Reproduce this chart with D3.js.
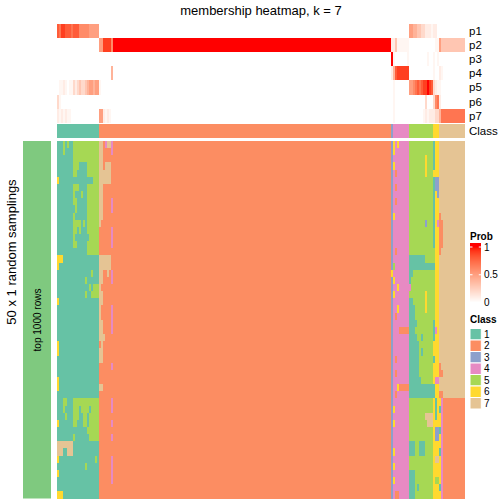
<!DOCTYPE html>
<html><head><meta charset="utf-8">
<script src="https://cdn.jsdelivr.net/npm/d3@7"></script>
<style>body{margin:0;background:#fff}svg{display:block}text{font-family:"Liberation Sans",Arial,Helvetica,sans-serif;fill:#000}</style>
</head><body><svg id="c" width="504" height="504"></svg>
<script>
// ---------- data ----------
const classLabels = ["1","2","3","4","5","6","7"];
const classColors = ["#66C2A5","#FC8D62","#8DA0CB","#E78AC3","#A6D854","#FFD92F","#E5C494"];
// number of samples in each consensus class (columns ordered by class)
const groupSizes = [21,146,1,8,12,3,13];
const probNames = ["p1","p2","p3","p4","p5","p6","p7"];
// membership probabilities per sample (digit = tenths, X = 1, h = 0.05), run-length coded per class group
const probRows = [
 "8 7 9*2 8*3 7 8*3 6*5 5*5 | 0*146 | 0 | 0*8 | 5*2 4*2 3*2 2*2 1*2 1 h | 1 1 0 | 0*13",
 "0*21 | 5*2 9*4 6 X*139 | 1 | 1 3 h*6 | 0*12 | 0 h h | 5 3*12",
 "0*21 | 0*146 | X | h 0*6 h | 0*9 h 0*2 | h 0 h | 0*13",
 "0*21 | 0*6 4 0*139 | 1 | 4 8 9*6 | 0*12 | h 0 0 | 1 h 0*11",
 "0 h h 1 h 0 h h 2 1 2 3 2 2 3 4 5 5 4 5 5 | h 0*145 | 0 | h 0*7 | 5 5 6 7 8 7 8 9 9 X 9 8 | 2 1 h | h 0*12",
 "2 h 0*19 | 0*146 | 0 | h 0*7 | 0*8 2 0*3 | 2 6 7 | 1 0*12",
 "1 h 1 h 1 h h 0*14 | 5*2 1 h 1 h 0*140 | 0 | h 0*7 | 0*7 h 1 h 1 1 | 1 2 2 | 4 7*12"
];
// class assigned in each of the 50 random samplings (rows), run-length coded per class group
const samplingRows = [
 "1*3 5 1 5 1*2 5*13 | 7*2 2 4 7*2 4 2*139 | 3 | 6 4 6 4*5 | 5*12 | 1 6*2 | 7*13",
 "1*3 5 1*4 5*13 | 7*2 2*4 4 2*139 | 3 | 6 4*7 | 5*12 | 1 6*2 | 7*13",
 "1*8 5*13 | 7*2 2*144 | 3 | 4*8 | 5*8 6 5*3 | 1 6*2 | 7*13",
 "1*8 5*3 1*4 5*6 | 7*2 2 7*3 2*140 | 3 | 6 4*7 | 5*8 6 5*3 | 1 6*2 | 7*13",
 "1*8 5*2 1*5 5*6 | 7*6 2*140 | 3 | 4 2 4*6 | 5*8 6 5*3 | 6*3 | 7*13",
 "6 1*17 5*3 | 7*6 2*140 | 3 | 4*8 | 5*12 | 1 3*2 | 7*13",
 "1*8 5*3 1*4 5*6 | 7*2 2*144 | 3 | 4 2 4*6 | 5*12 | 1 3*2 | 7*13",
 "1*8 5 1*3 5 1*2 5*6 | 7*2 2*144 | 3 | 4*8 | 5*12 | 1 6 3 | 7*13",
 "1*8 5*2 1*5 5*6 | 7*2 2*4 4 2*139 | 3 | 4 2 4*6 | 5*12 | 1 6*2 | 7*13",
 "1*9 5 1*5 5*6 | 7*2 2*4 4 2*139 | 3 | 4*8 | 5*12 | 1 6*2 | 7*13",
 "1*8 5 1*6 5*6 | 7*2 2*144 | 3 | 6 4*7 | 5*12 | 1 6*2 | 2 7*12",
 "1*8 5*4 1 5 1 5*6 | 7 2*145 | 3 | 4*8 | 5*8 3 5*3 | 1 6 4 | 2*2 7*11",
 "1*8 5*2 1 5 1*3 5*6 | 2*6 4 2*139 | 3 | 4*8 | 5*12 | 1 6*2 | 2*2 7*11",
 "1*8 5 1*7 5*5 | 2*6 4 2*139 | 3 | 4*8 | 5*12 | 1 6*2 | 2*2 7*11",
 "1*8 5*2 1*5 5*6 | 2*6 4 2*139 | 3 | 4*8 | 5*12 | 1 6*2 | 2*2 7*11",
 "1*15 5*6 | 2*146 | 3 | 4 2 4*6 | 5*12 | 5 6*2 | 2 7*12",
 "6*3 1*18 | 7*6 2*140 | 3 | 4*8 | 1*8 5*4 | 5 6*2 | 7*13",
 "6 1*20 | 7*6 2*140 | 3 | 5 4*7 | 1*12 | 1 6*2 | 7*13",
 "1*17 5 1*3 | 7*2 2*2 7 2 4 2*139 | 6 | 4*8 | 1*2 5*10 | 5 6*2 | 7*13",
 "1*14 5 1*6 | 7*2 2*4 4 2*139 | 3 | 6 4*7 | 1 5*11 | 5 6*2 | 7*13",
 "1*16 5 1 5*3 | 7 2*145 | 3 | 4 4 6 4*5 | 4 5*11 | 5 6*2 | 7*13",
 "1*14 5 1*2 5*4 | 7*2 2*144 | 3 | 6 4*7 | 5*8 6 5*3 | 5 6*2 | 7*13",
 "6 1*20 | 7*2 2*144 | 3 | 4*8 | 1*2 5*6 6 5*3 | 5 6*2 | 7*13",
 "1*21 | 7 2*5 4 2*139 | 3 | 4*2 6 4*5 | 1*3 5*5 6 5*3 | 5 6*2 | 7*13",
 "1*21 | 7 2 2*4 4 2*139 | 3 | 4 2 4*6 | 1*3 5*9 | 5 6*2 | 7*13",
 "1*21 | 7*2 2*4 4 2*139 | 3 | 4*8 | 1*4 5*8 | 1 6*2 | 7*13",
 "1*21 | 7*2 2*4 4 2*139 | 3 | 4*3 2*5 | 1*3 5*9 | 1 4 6 | 7*13",
 "1*21 | 7*3 2*143 | 3 | 4*8 | 1*4 5*2 1 5*5 | 1 6*2 | 7*13",
 "6 1*20 | 2 7 2*144 | 3 | 4*8 | 1*5 5*7 | 6*3 | 7*13",
 "6 1*20 | 7*2 2*144 | 3 | 4*8 | 1*5 5 1 5*5 | 6*3 | 7*13",
 "1*21 | 7*2 2*144 | 3 | 4 2 4*6 | 1*5 5*7 | 1 6*2 | 7*13",
 "1*21 | 2*6 4 2*139 | 3 | 4*8 | 1*5 5*7 | 6*3 | 2 7*12",
 "1*21 | 2*146 | 3 | 4 2 4*6 | 1*5 5*7 | 6*3 | 2*2 7*11",
 "6 1*20 | 2*146 | 3 | 4*8 | 1*6 5*6 | 6 4*2 | 7*13",
 "6 1*20 | 7*2 2*144 | 3 | 4*2 6 2*5 | 1*12 | 1 6*2 | 7*13",
 "1*21 | 2*146 | 3 | 4 2 4*6 | 1*12 | 1 6*2 | 2*2 7*11",
 "1*3 5*2 1*3 5*13 | 2*6 4 2*139 | 3 | 4*8 | 5*12 | 6 1 6 | 6 4 2*11",
 "1*3 5 1*4 5*3 1 5*4 1 5*4 | 2*6 4 2*139 | 3 | 6 4*7 | 5*12 | 6 1 6 | 1 4 2*11",
 "1*4 5 1*3 5*3 1*2 5*2 1 5*5 | 2*146 | 3 | 4*8 | 5*8 7*4 | 6 1 6 | 6 4 2*11",
 "6 1*7 5*2 1*3 5*2 1 5*5 | 2*6 4 2*139 | 3 | 6 4*7 | 5*9 7*3 | 6*3 | 6 4 2*11",
 "1*15 5*6 | 2*146 | 3 | 4*8 | 5*12 | 6 3*2 | 1 4 2*11",
 "1*8 5 1*7 5*5 | 2*6 4 2*139 | 3 | 4*8 | 5*12 | 6 3*2 | 6 4 2*11",
 "7*8 1*13 | 2*146 | 3 | 4*8 | 1*3 5*2 1*3 5*4 | 6*3 | 6 4 2*11",
 "7*3 1*2 7*3 1*13 | 2*146 | 3 | 6 4*7 | 1*3 5*2 1*3 5*4 | 6*3 | 1 4 2*11",
 "6 1*18 5 1 | 2*6 4 2*139 | 3 | 4*8 | 5*12 | 6 7*2 | 6 4 2*11",
 "1*14 5 1*6 | 2*6 4 2*139 | 3 | 6 4*7 | 5*12 | 6*3 | 6 4 2*11",
 "6 1*20 | 2*6 4 2*139 | 3 | 4*8 | 1*3 5*9 | 6*3 | 6 4 2*11",
 "1*21 | 2*6 4 2*139 | 3 | 6 4*7 | 1*3 5*9 | 6 5*2 | 6 4 2*11",
 "1*21 | 2*146 | 3 | 4*8 | 1*3 5 1 5*7 | 6*3 | 1 4 2*11",
 "6*3 1*18 | 2*146 | 3 | 4 2*2 4*5 | 1*3 5*9 | 6*3 | 6 4 2*11"
];
const probTicks = [0, 0.5, 1];
const titleText = "membership heatmap, k = 7";
const rowTitle = "50 x 1 random samplings";
const rowAnnoText = "top 1000 rows";

// ---------- decode ----------
function expand(spec){
  return spec.split("|").map((g,i)=>{
    const out=[];
    g.trim().split(/\s+/).forEach(t=>{const [c,n]=t.split("*");const k=n?+n:1;for(let j=0;j<k;j++)out.push(c);});
    const sz=groupSizes[i];
    while(out.length<sz)out.push(out[out.length-1]);
    return out.slice(0,sz);
  }).flat();
}
const pVal = c => c==="X"?1:(c==="h"?0.05:(+c)/10);
const N = d3.sum(groupSizes);
const colClass = groupSizes.flatMap((s,i)=>d3.range(s).map(()=>classLabels[i]));
const probMatrix = probRows.map(s=>expand(s).map(pVal));
const classMatrix = samplingRows.map(s=>expand(s));

// ---------- scales ----------
const svg = d3.select("#c");
const x = d3.scaleBand().domain(d3.range(N)).range([57,465]);
const yP = d3.scaleBand().domain(probNames).range([24,122.7]);
const yClassTop = 123.7, classH = 14;
const yM = d3.scaleBand().domain(d3.range(samplingRows.length)).range([141,498.5]);
const probColor = d3.scaleLinear().domain([0,1]).range(["#FFFFFF","#FF0000"]).interpolate(d3.interpolateLab);
const classColor = d3.scaleOrdinal().domain(classLabels).range(classColors);

// title
svg.append("text").attr("x",261).attr("y",14.5).attr("text-anchor","middle")
  .style("font-size","13px").text(titleText);

// prob annotation rows
const gp = svg.append("g").attr("shape-rendering","crispEdges");
probMatrix.forEach((row,r)=>{
  gp.selectAll(null).data(row).join("rect")
    .attr("x",(d,i)=>x(i)).attr("width",x.bandwidth())
    .attr("y",yP(probNames[r])).attr("height",yP.bandwidth())
    .attr("fill",d=>probColor(d));
});
// class annotation row
gp.selectAll(null).data(colClass).join("rect")
  .attr("x",(d,i)=>x(i)).attr("width",x.bandwidth())
  .attr("y",yClassTop).attr("height",classH)
  .attr("fill",d=>classColor(d));

// annotation names
const annoNames = probNames.concat(["Class"]);
annoNames.forEach((n,i)=>{
  const cy = i<7 ? yP(n)+yP.bandwidth()/2 : yClassTop+classH/2;
  svg.append("text").attr("x",469).attr("y",cy+4).style("font-size","11.5px").text(n);
});

// main heatmap
const gm = svg.append("g").attr("shape-rendering","crispEdges");
classMatrix.forEach((row,r)=>{
  gm.selectAll(null).data(row).join("rect")
    .attr("x",(d,i)=>x(i)).attr("width",x.bandwidth())
    .attr("y",yM(r)).attr("height",yM.bandwidth()+0.3)
    .attr("fill",d=>classColor(d));
});

// left row annotation
svg.append("rect").attr("x",23).attr("y",yM.range()[0]).attr("width",28)
  .attr("height",yM.range()[1]-yM.range()[0]).attr("fill","#7FC97F");
svg.append("text").attr("transform","translate(40.5,320) rotate(-90)")
  .attr("text-anchor","middle").style("font-size","10px").text(rowAnnoText);
svg.append("text").attr("transform","translate(16,252) rotate(-90)")
  .attr("text-anchor","middle").style("font-size","13px").text(rowTitle);

// Prob legend
const lx = 470, lw = 11.3;
svg.append("text").attr("x",lx).attr("y",240).style("font-size","10px").style("font-weight","bold").text("Prob");
const yLeg = d3.scaleLinear().domain([0,1]).range([302.5,247]);
const gl = svg.append("g").attr("shape-rendering","crispEdges");
gl.selectAll(null).data(d3.range(243,306)).join("rect")
  .attr("x",lx).attr("width",lw).attr("y",d=>d).attr("height",1)
  .attr("fill",d=>probColor(Math.max(0,Math.min(1,yLeg.invert(d+0.5)))));
probTicks.forEach(t=>{
  svg.append("line").attr("x1",lx).attr("x2",lx+2.5).attr("y1",yLeg(t)).attr("y2",yLeg(t)).attr("stroke","#fff").attr("stroke-width",1);
  svg.append("line").attr("x1",lx+lw-2.5).attr("x2",lx+lw).attr("y1",yLeg(t)).attr("y2",yLeg(t)).attr("stroke","#fff").attr("stroke-width",1);
  svg.append("text").attr("x",484).attr("y",yLeg(t)+3.6).style("font-size","10px").text(d3.format("~g")(t));
});

// Class legend
svg.append("text").attr("x",lx).attr("y",323).style("font-size","10px").style("font-weight","bold").text("Class");
const yL = d3.scaleBand().domain(classLabels).range([328.5,328.5+11.5*7]);
svg.selectAll(null).data(classLabels).join("rect")
  .attr("x",lx).attr("width",lw).attr("y",d=>yL(d)).attr("height",yL.bandwidth())
  .attr("fill",d=>classColor(d)).attr("stroke","#fff").attr("stroke-width",1);
svg.selectAll(null).data(classLabels).join("text")
  .attr("x",484).attr("y",d=>yL(d)+yL.bandwidth()/2+3.6).style("font-size","10px").text(d=>d);
</script></body></html>
